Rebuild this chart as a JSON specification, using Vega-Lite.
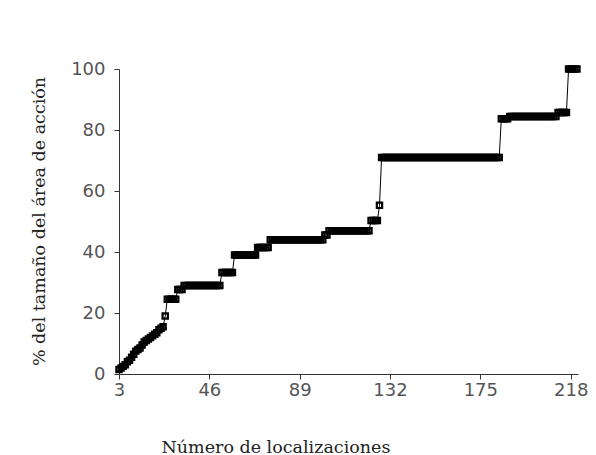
{
  "$schema": "https://vega.github.io/schema/vega-lite/v6.json",
  "autosize": {"type": "none"},
  "width": 459,
  "height": 305,
  "padding": {"left": 119, "top": 69, "right": 18, "bottom": 81},
  "background": "white",
  "config": {
    "view": {"stroke": null},
    "axis": {
      "grid": false,
      "domainColor": "#333333",
      "domainWidth": 1,
      "tickColor": "#333333",
      "tickWidth": 1,
      "tickSize": 5,
      "labelFont": "DejaVu Sans",
      "labelFontSize": 18,
      "labelColor": "#555555",
      "labelFlush": false,
      "titleFont": "DejaVu Serif",
      "titleFontSize": 17.5,
      "titleFontWeight": "normal",
      "titleColor": "#222222"
    }
  },
  "data": {
    "values": [
      {"n": 3, "p": 1.5}, {"n": 4, "p": 2}, {"n": 5, "p": 2.5}, {"n": 6, "p": 3}, {"n": 7, "p": 4},
      {"n": 8, "p": 4.5}, {"n": 9, "p": 5.5}, {"n": 10, "p": 6.5}, {"n": 11, "p": 7.5}, {"n": 12, "p": 8},
      {"n": 13, "p": 8.5}, {"n": 14, "p": 9.5}, {"n": 15, "p": 10.5}, {"n": 16, "p": 11}, {"n": 17, "p": 11.5},
      {"n": 18, "p": 12}, {"n": 19, "p": 12.5}, {"n": 20, "p": 13}, {"n": 21, "p": 13.5}, {"n": 22, "p": 14.5},
      {"n": 23, "p": 15}, {"n": 24, "p": 15.5}, {"n": 25, "p": 19},
      {"n": 26, "p": 24.5}, {"n": 27, "p": 24.5}, {"n": 28, "p": 24.5}, {"n": 29, "p": 24.5}, {"n": 30, "p": 24.5},
      {"n": 31, "p": 27.7}, {"n": 32, "p": 27.7}, {"n": 33, "p": 27.7},
      {"n": 34, "p": 29}, {"n": 35, "p": 29}, {"n": 36, "p": 29}, {"n": 37, "p": 29}, {"n": 38, "p": 29},
      {"n": 39, "p": 29}, {"n": 40, "p": 29}, {"n": 41, "p": 29}, {"n": 42, "p": 29}, {"n": 43, "p": 29},
      {"n": 44, "p": 29}, {"n": 45, "p": 29}, {"n": 46, "p": 29}, {"n": 47, "p": 29}, {"n": 48, "p": 29},
      {"n": 49, "p": 29}, {"n": 50, "p": 29}, {"n": 51, "p": 29},
      {"n": 52, "p": 33.3}, {"n": 53, "p": 33.3}, {"n": 54, "p": 33.3}, {"n": 55, "p": 33.3}, {"n": 56, "p": 33.3},
      {"n": 57, "p": 33.3},
      {"n": 58, "p": 39}, {"n": 59, "p": 39}, {"n": 60, "p": 39}, {"n": 61, "p": 39}, {"n": 62, "p": 39},
      {"n": 63, "p": 39}, {"n": 64, "p": 39}, {"n": 65, "p": 39}, {"n": 66, "p": 39}, {"n": 67, "p": 39},
      {"n": 68, "p": 39},
      {"n": 69, "p": 41.5}, {"n": 70, "p": 41.5}, {"n": 71, "p": 41.5}, {"n": 72, "p": 41.5}, {"n": 73, "p": 41.5},
      {"n": 74, "p": 41.5},
      {"n": 75, "p": 44}, {"n": 76, "p": 44}, {"n": 77, "p": 44}, {"n": 78, "p": 44}, {"n": 79, "p": 44},
      {"n": 80, "p": 44}, {"n": 81, "p": 44}, {"n": 82, "p": 44}, {"n": 83, "p": 44}, {"n": 84, "p": 44},
      {"n": 85, "p": 44}, {"n": 86, "p": 44}, {"n": 87, "p": 44}, {"n": 88, "p": 44}, {"n": 89, "p": 44},
      {"n": 90, "p": 44}, {"n": 91, "p": 44}, {"n": 92, "p": 44}, {"n": 93, "p": 44}, {"n": 94, "p": 44},
      {"n": 95, "p": 44}, {"n": 96, "p": 44}, {"n": 97, "p": 44}, {"n": 98, "p": 44}, {"n": 99, "p": 44},
      {"n": 100, "p": 44},
      {"n": 101, "p": 45.6}, {"n": 102, "p": 45.6},
      {"n": 103, "p": 47}, {"n": 104, "p": 47}, {"n": 105, "p": 47}, {"n": 106, "p": 47}, {"n": 107, "p": 47},
      {"n": 108, "p": 47}, {"n": 109, "p": 47}, {"n": 110, "p": 47}, {"n": 111, "p": 47}, {"n": 112, "p": 47},
      {"n": 113, "p": 47}, {"n": 114, "p": 47}, {"n": 115, "p": 47}, {"n": 116, "p": 47}, {"n": 117, "p": 47},
      {"n": 118, "p": 47}, {"n": 119, "p": 47}, {"n": 120, "p": 47}, {"n": 121, "p": 47}, {"n": 122, "p": 47},
      {"n": 123, "p": 50.3}, {"n": 124, "p": 50.3}, {"n": 125, "p": 50.3}, {"n": 126, "p": 50.3},
      {"n": 127, "p": 55.3},
      {"n": 128, "p": 71}, {"n": 129, "p": 71}, {"n": 130, "p": 71}, {"n": 131, "p": 71}, {"n": 132, "p": 71},
      {"n": 133, "p": 71}, {"n": 134, "p": 71}, {"n": 135, "p": 71}, {"n": 136, "p": 71}, {"n": 137, "p": 71},
      {"n": 138, "p": 71}, {"n": 139, "p": 71}, {"n": 140, "p": 71}, {"n": 141, "p": 71}, {"n": 142, "p": 71},
      {"n": 143, "p": 71}, {"n": 144, "p": 71}, {"n": 145, "p": 71}, {"n": 146, "p": 71}, {"n": 147, "p": 71},
      {"n": 148, "p": 71}, {"n": 149, "p": 71}, {"n": 150, "p": 71}, {"n": 151, "p": 71}, {"n": 152, "p": 71},
      {"n": 153, "p": 71}, {"n": 154, "p": 71}, {"n": 155, "p": 71}, {"n": 156, "p": 71}, {"n": 157, "p": 71},
      {"n": 158, "p": 71}, {"n": 159, "p": 71}, {"n": 160, "p": 71}, {"n": 161, "p": 71}, {"n": 162, "p": 71},
      {"n": 163, "p": 71}, {"n": 164, "p": 71}, {"n": 165, "p": 71}, {"n": 166, "p": 71}, {"n": 167, "p": 71},
      {"n": 168, "p": 71}, {"n": 169, "p": 71}, {"n": 170, "p": 71}, {"n": 171, "p": 71}, {"n": 172, "p": 71},
      {"n": 173, "p": 71}, {"n": 174, "p": 71}, {"n": 175, "p": 71}, {"n": 176, "p": 71}, {"n": 177, "p": 71},
      {"n": 178, "p": 71}, {"n": 179, "p": 71}, {"n": 180, "p": 71}, {"n": 181, "p": 71}, {"n": 182, "p": 71},
      {"n": 183, "p": 71}, {"n": 184, "p": 71},
      {"n": 185, "p": 83.7}, {"n": 186, "p": 83.7}, {"n": 187, "p": 83.7}, {"n": 188, "p": 83.7},
      {"n": 189, "p": 84.4}, {"n": 190, "p": 84.4}, {"n": 191, "p": 84.4}, {"n": 192, "p": 84.4}, {"n": 193, "p": 84.4},
      {"n": 194, "p": 84.4}, {"n": 195, "p": 84.4}, {"n": 196, "p": 84.4}, {"n": 197, "p": 84.4}, {"n": 198, "p": 84.4},
      {"n": 199, "p": 84.4}, {"n": 200, "p": 84.4}, {"n": 201, "p": 84.4}, {"n": 202, "p": 84.4}, {"n": 203, "p": 84.4},
      {"n": 204, "p": 84.4}, {"n": 205, "p": 84.4}, {"n": 206, "p": 84.4}, {"n": 207, "p": 84.4}, {"n": 208, "p": 84.4},
      {"n": 209, "p": 84.4}, {"n": 210, "p": 84.4}, {"n": 211, "p": 84.4},
      {"n": 212, "p": 85.7}, {"n": 213, "p": 85.7}, {"n": 214, "p": 85.7}, {"n": 215, "p": 85.7}, {"n": 216, "p": 85.7},
      {"n": 217, "p": 100}, {"n": 218, "p": 100}, {"n": 219, "p": 100}, {"n": 220, "p": 100}, {"n": 221, "p": 100}
    ]
  },
  "encoding": {
    "x": {
      "field": "n",
      "type": "quantitative",
      "scale": {"domain": [3, 221.5], "nice": false, "zero": false},
      "axis": {
        "values": [3, 46, 89, 132, 175, 218],
        "labelPadding": 2,
        "title": "Número de localizaciones",
        "titleX": 42,
        "titleY": 78,
        "titleAlign": "left",
        "titleBaseline": "alphabetic",
        "titleAnchor": null
      }
    },
    "y": {
      "field": "p",
      "type": "quantitative",
      "scale": {"domain": [0, 100], "nice": false},
      "axis": {
        "values": [0, 20, 40, 60, 80, 100],
        "labelPadding": 9,
        "title": "% del tamaño del área de acción",
        "titleAngle": -90,
        "titleX": -75,
        "titleY": 152,
        "titleAlign": "center",
        "titleBaseline": "alphabetic"
      }
    }
  },
  "layer": [
    {"mark": {"type": "line", "color": "black", "strokeWidth": 1}},
    {"mark": {"type": "point", "shape": "square", "filled": false, "stroke": "black", "strokeWidth": 2.2, "size": 28, "opacity": 1}}
  ]
}
